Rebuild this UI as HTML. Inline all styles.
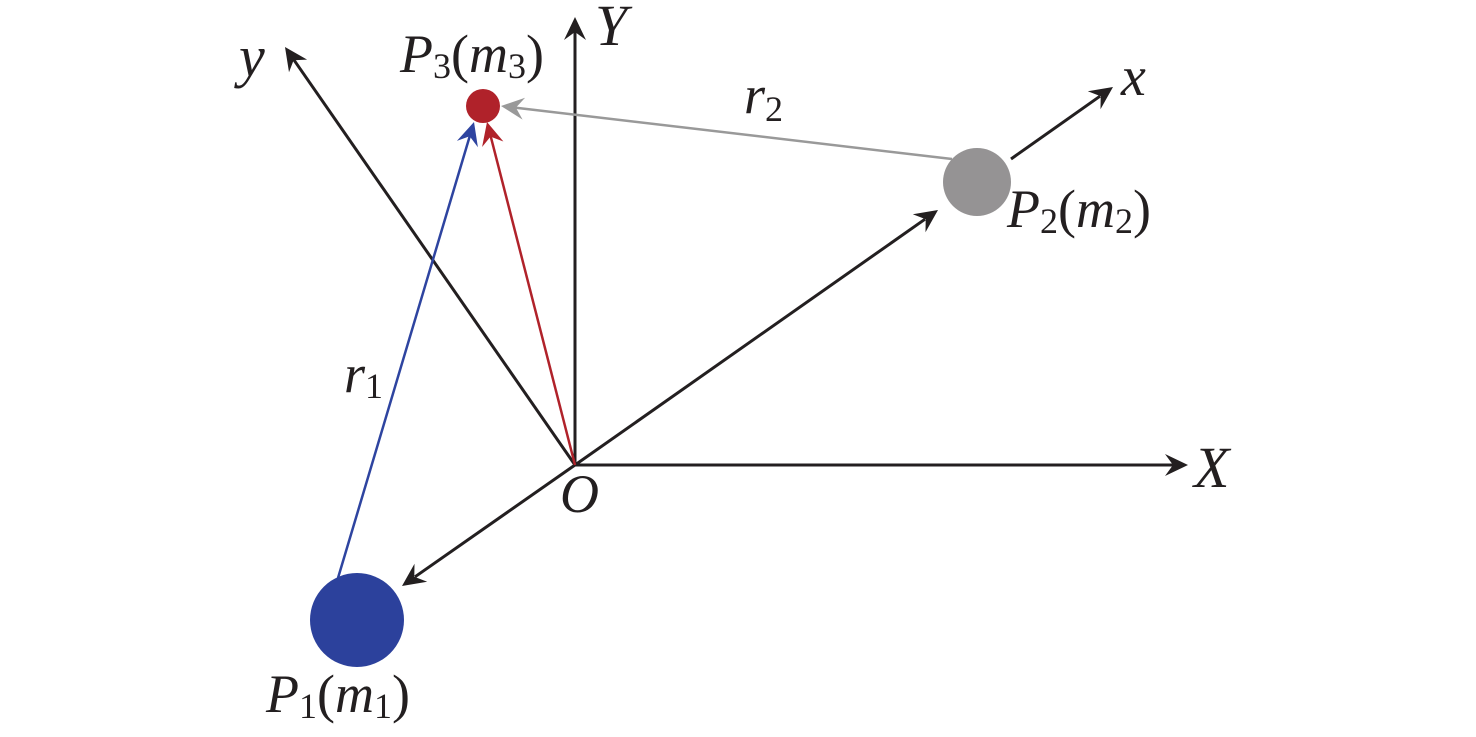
<!DOCTYPE html>
<html>
<head>
<meta charset="utf-8">
<style>
  html,body{margin:0;padding:0;background:#fff;}
  svg{display:block;}
  text{font-family:"Liberation Serif","DejaVu Serif",serif;fill:#231f20;}
</style>
</head>
<body>
<svg width="1476" height="737" viewBox="0 0 1476 737" xmlns="http://www.w3.org/2000/svg">
  <rect width="1476" height="737" fill="#fff"/>

  <!-- X axis -->
  <line x1="575" y1="465" x2="1174" y2="465" stroke="#231f20" stroke-width="3"/>
  <polygon points="1188,465 1165,476 1173,465 1165,454" fill="#231f20"/>

  <!-- Y axis -->
  <line x1="575" y1="465" x2="575" y2="31" stroke="#231f20" stroke-width="3"/>
  <polygon points="575,17 564,40 575,32 586,40" fill="#231f20"/>

  <!-- y axis -->
  <line x1="575" y1="465" x2="293.5" y2="59.3" stroke="#231f20" stroke-width="3"/>
  <polygon points="285,47 307.1,59.6 293.6,60.2 289.0,72.3" fill="#231f20"/>

  <!-- O -> P2 -->
  <line x1="575" y1="465" x2="925.0" y2="219.2" stroke="#231f20" stroke-width="3"/>
  <polygon points="938,210 925.5,232.2 925.7,219.2 912.8,214.2" fill="#231f20"/>

  <!-- P2 -> x -->
  <line x1="1011" y1="159" x2="1100.0" y2="96.2" stroke="#231f20" stroke-width="3"/>
  <polygon points="1113,87 1100.5,109.2 1100.7,96.2 1087.8,91.2" fill="#231f20"/>

  <!-- O -> P1 direction -->
  <line x1="575" y1="465" x2="415.0" y2="576.8" stroke="#231f20" stroke-width="3"/>
  <polygon points="402,586 414.5,563.8 414.3,576.8 427.2,581.8" fill="#231f20"/>

  <!-- blue r1 -->
  <line x1="338" y1="578" x2="470.0" y2="135.4" stroke="#2e44a0" stroke-width="2.5"/>
  <polygon points="474,122 477.9,147.2 469.7,136.3 456.9,140.9" fill="#2e44a0"/>

  <!-- red -->
  <line x1="575" y1="465" x2="490.5" y2="135.6" stroke="#b0222a" stroke-width="2.5"/>
  <polygon points="487,122 503.4,141.5 490.5,136.6 482.1,147.0" fill="#b0222a"/>

  <!-- gray r2 -->
  <line x1="952" y1="159" x2="514.9" y2="107.6" stroke="#999999" stroke-width="2.5"/>
  <polygon points="501,106 525.1,97.8 515.9,107.6 522.6,119.6" fill="#999999"/>

  <!-- circles -->
  <circle cx="483" cy="106" r="17" fill="#b0222a"/>
  <circle cx="977" cy="182" r="34" fill="#959394"/>
  <circle cx="357" cy="620" r="47" fill="#2c419c"/>

  <!-- labels -->
  <text x="239" y="76" font-size="58" font-style="italic">y</text>
  <text x="595" y="45" font-size="58" font-style="italic">Y</text>
  <text x="1121" y="95" font-size="56" font-style="italic">x</text>
  <text x="1194" y="487" font-size="58" font-style="italic">X</text>
  <text x="560" y="512" font-size="54" font-style="italic">O</text>

  <text x="400" y="72" font-size="54" font-style="italic">P<tspan font-style="normal" font-size="36" dy="6">3</tspan><tspan font-style="normal" dy="-6">(</tspan>m<tspan font-style="normal" font-size="36" dy="6">3</tspan><tspan font-style="normal" dy="-6">)</tspan></text>

  <text x="1007" y="227" font-size="54" font-style="italic">P<tspan font-style="normal" font-size="36" dy="6">2</tspan><tspan font-style="normal" dy="-6">(</tspan>m<tspan font-style="normal" font-size="36" dy="6">2</tspan><tspan font-style="normal" dy="-6">)</tspan></text>

  <text x="266" y="712" font-size="54" font-style="italic">P<tspan font-style="normal" font-size="36" dy="6">1</tspan><tspan font-style="normal" dy="-6">(</tspan>m<tspan font-style="normal" font-size="36" dy="6">1</tspan><tspan font-style="normal" dy="-6">)</tspan></text>

  <text x="344" y="392" font-size="54" font-style="italic">r<tspan font-style="normal" font-size="36" dy="6">1</tspan></text>
  <text x="744" y="113" font-size="54" font-style="italic">r<tspan font-style="normal" font-size="36" dy="8">2</tspan></text>
</svg>
</body>
</html>
